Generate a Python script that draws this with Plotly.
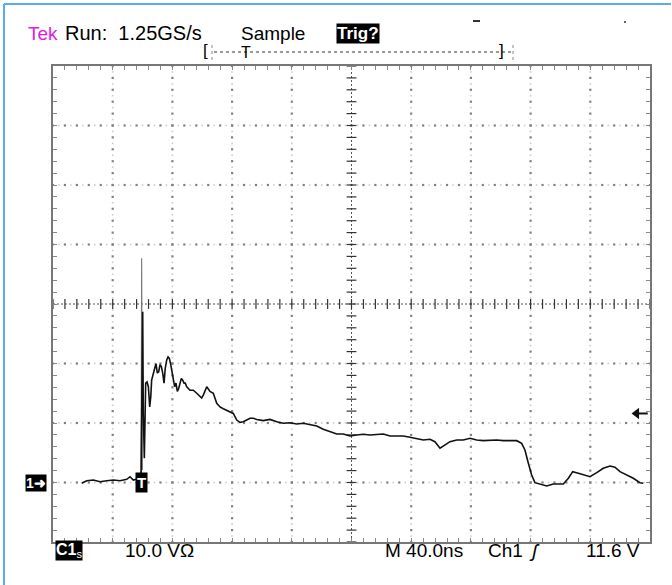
import plotly.graph_objects as go
import numpy as np

# ---------------- data (time in ns from left edge of screen, volts above ground) -------------
time_ns = [19.2, 22.6, 27.0, 31.5, 36.0, 40.4, 44.9, 49.4, 51.6, 53.8, 56.3, 59.0,
           60.1, 60.5, 61.2, 62.1, 63.0, 63.9, 64.8, 65.5, 66.1, 67.2, 68.1, 69.0,
           69.9, 70.8, 71.7, 72.6, 73.5, 74.4, 75.2, 76.2, 77.1, 77.9, 78.9, 79.7,
           80.6, 81.5, 82.4, 83.3, 84.2, 85.1, 86.0, 86.9, 87.8, 88.6, 89.6, 91.8,
           94.0, 96.3, 98.5, 99.6, 100.7, 101.8, 103.0, 105.2, 107.4, 109.7, 111.9,
           114.1, 116.4, 118.6, 120.8, 123.1, 125.3, 127.5, 129.8, 132.0, 134.2,
           136.5, 140.9, 145.4, 149.9, 154.3, 158.8, 163.3, 167.7, 172.2, 176.7,
           181.1, 185.6, 190.1, 194.5, 199.0, 203.5, 207.9, 212.4, 216.9, 221.3,
           225.8, 230.3, 234.7, 239.2, 243.7, 248.1, 252.6, 255.9, 259.3, 261.5,
           266.0, 270.5, 274.9, 279.4, 283.9, 288.3, 292.8, 297.3, 301.7, 306.2,
           310.7, 314.0, 316.2, 318.5, 320.7, 322.9, 326.3, 330.8, 335.2, 341.9,
           345.3, 348.2, 352.0, 355.3, 359.8, 364.3, 368.7, 373.2, 376.5, 379.9,
           384.4, 388.8, 393.3, 395.5]
volts = [-0.13, 0.30, 0.42, 0.13, 0.30, 0.42, 0.30, 0.54, 0.97, 0.42, 0.59, 0.42,
         28.7, 11.6, 4.07, 16.7, 16.9, 16.1, 12.7, 14.4, 17.2, 18.4, 19.5, 20.0,
         18.4, 18.6, 19.8, 19.5, 18.4, 16.7, 19.2, 20.6, 21.1, 20.9, 19.8, 18.6,
         16.7, 16.1, 16.7, 15.3, 15.8, 16.9, 17.5, 17.2, 16.7, 16.7, 16.1, 15.5,
         15.5, 15.0, 14.4, 14.2, 14.7, 15.5, 16.1, 15.3, 15.0, 13.3, 12.7,
         12.4, 12.1, 11.9, 11.6, 10.5, 10.1, 10.2, 10.5, 10.8, 10.8,
         10.6, 10.4, 10.6, 10.2, 9.95, 10.05, 9.83, 9.95, 9.67, 9.50,
         8.94, 8.54, 8.15, 8.15, 7.82, 7.98, 8.10, 7.98, 8.10, 8.15,
         7.82, 7.82, 7.82, 7.60, 7.43, 7.14, 7.26, 6.86, 5.75, 6.14,
         6.86, 7.14, 7.14, 7.43, 7.14, 7.03, 7.14, 7.14, 7.03, 7.03,
         7.03, 6.59, 5.46, 3.23, 1.26, -0.03, -0.25, -0.59, -0.25, -0.25,
         0.71, 1.82, 1.55, 1.26, 0.97, 1.65, 2.39, 2.77, 2.56, 1.82,
         1.26, 0.71, -0.03, -0.13]
# single-sample glitch at the trigger edge (drawn thin / grey)
spike_t = [59.0, 59.4, 59.9]
spike_v = [0.42, 37.7, 2.1]

x_divs = list(range(0, 401, 40))      # 40 ns/div
y_divs = list(range(-10, 71, 10))     # 10 V/div
X_MIN, X_MAX, Y_MIN, Y_MAX = 0, 400, -10, 70
X_MID, Y_MID = 200, 30
trig_level = 11.6
trig_marker_t = [391.0, 398.5]        # trigger-level arrow at right edge of screen

W, H = 672, 585
L, R, T, B = 53, 22, 66, 43
PW, PH = W - L - R, H - T - B


def px(x):
    return (x - L) / PW


def py(y):
    return (H - B - y) / PH


fig = go.Figure()

# ---------------- graticule dots ----------------
gx, gy, lx, ly = [], [], [], []
minor_x = np.arange(X_MIN, X_MAX + 0.01, 8)
minor_y = np.arange(Y_MIN, Y_MAX + 0.01, 2)
half_x = np.arange(X_MIN + 4, X_MAX, 8)
half_y = np.arange(Y_MIN + 1, Y_MAX, 2)
for xv in x_divs[1:-1]:
    if xv == X_MID:
        continue
    gx += [xv] * len(minor_y); gy += list(minor_y)
    lx += [xv] * len(half_y); ly += list(half_y)
for yv in y_divs[1:-1]:
    if yv == Y_MID:
        continue
    gx += list(minor_x); gy += [yv] * len(minor_x)
    lx += list(half_x); ly += [yv] * len(half_x)
fig.add_trace(go.Scatter(x=lx, y=ly, mode="markers", hoverinfo="skip",
                         marker=dict(symbol="square", size=1.6, color="#cccccc")))
fig.add_trace(go.Scatter(x=gx, y=gy, mode="markers", hoverinfo="skip",
                         marker=dict(symbol="square", size=2.2, color="#808080")))

# centre cross: dotted lines + tick marks
fig.add_trace(go.Scatter(x=[X_MIN, X_MAX], y=[Y_MID, Y_MID], mode="lines", hoverinfo="skip",
                         line=dict(color="#555", width=1, dash="2px,2px")))
fig.add_trace(go.Scatter(x=[X_MID, X_MID], y=[Y_MIN, Y_MAX], mode="lines", hoverinfo="skip",
                         line=dict(color="#555", width=1, dash="2px,2px")))
fig.add_trace(go.Scatter(x=list(minor_x), y=[Y_MID] * len(minor_x), mode="markers", hoverinfo="skip",
                         marker=dict(symbol="line-ns", size=7, line=dict(color="#333", width=1.2))))
fig.add_trace(go.Scatter(x=[X_MID] * len(minor_y), y=list(minor_y), mode="markers", hoverinfo="skip",
                         marker=dict(symbol="line-ew", size=7, line=dict(color="#333", width=1.2))))

# ---------------- waveform ----------------
fig.add_trace(go.Scatter(x=spike_t, y=spike_v, mode="lines", hoverinfo="skip",
                         line=dict(color="#777", width=1.1)))
fig.add_trace(go.Scatter(x=time_ns, y=volts, mode="lines",
                         line=dict(color="#111", width=1.6)))

# trigger level arrow
fig.add_trace(go.Scatter(x=trig_marker_t, y=[trig_level] * 2, mode="lines", hoverinfo="skip",
                         line=dict(color="#111", width=2)))
fig.add_trace(go.Scatter(x=trig_marker_t[:1], y=[trig_level], mode="markers", hoverinfo="skip",
                         marker=dict(symbol="triangle-left", size=10, color="#111")))

fig.update_xaxes(range=[X_MIN, X_MAX], showgrid=False, zeroline=False, showticklabels=False,
                 showline=True, linecolor="#777", linewidth=1.5, mirror="ticks",
                 ticks="inside", dtick=8, tick0=0, ticklen=4, tickcolor="#888", tickwidth=1)
fig.update_yaxes(range=[Y_MIN, Y_MAX], showgrid=False, zeroline=False, showticklabels=False,
                 showline=True, linecolor="#777", linewidth=1.5, mirror="ticks",
                 ticks="inside", dtick=2, tick0=0, ticklen=4, tickcolor="#888", tickwidth=1)

FONT = "Liberation Sans Narrow, Liberation Sans, Arial, sans-serif"
ann = []


def txt(x, y, s, size=19, color="black", anchor="left", bg=None, **kw):
    d = dict(x=px(x), y=py(y), xref="paper", yref="paper", text=s, showarrow=False,
             xanchor=anchor, yanchor="middle", font=dict(family=FONT, size=size, color=color))
    if bg:
        d.update(bgcolor=bg, borderpad=0)
    d.update(kw)
    ann.append(d)


# header
txt(26, 33, "Tek", color="#e020e0")
txt(63, 33, "Run:&nbsp; 1.25GS/s", size=20)
txt(239, 33, "Sample")
txt(336, 33, "<b>Trig?</b>", size=17, color="white", bg="black")
# record bar
txt(201, 51, "[", size=17)
txt(497, 51, "]", size=17)
txt(239, 52, "T", size=16)
# footer
txt(55, 550, "<b>C1</b><sub>s</sub>", size=16, color="white", bg="black")
txt(123, 550, "10.0 VΩ")
txt(383, 550, "M 40.0ns")
txt(486, 550, "Ch1")
txt(527, 550, "<i>ʃ</i>", size=19)
txt(584, 550, "11.6 V")
# ground marker & trigger marker
txt(25, 483, "<b>1➜</b>", size=14, color="white", bg="black")
ann.append(dict(x=59.2, y=0.0, xref="x", yref="y", text="<b>T</b>", showarrow=False,
                xanchor="center", yanchor="middle", bgcolor="black", borderpad=1,
                font=dict(family=FONT, size=15, color="white")))

shapes = [
    dict(type="line", xref="paper", yref="paper", x0=px(214), x1=px(512), y0=py(52), y1=py(52),
         line=dict(color="#333", width=1, dash="dot")),
    dict(type="line", xref="paper", yref="paper", x0=px(212), x1=px(212), y0=py(45), y1=py(60),
         line=dict(color="#888", width=1, dash="dot")),
    dict(type="line", xref="paper", yref="paper", x0=px(513), x1=px(513), y0=py(45), y1=py(60),
         line=dict(color="#888", width=1, dash="dot")),
    dict(type="line", xref="paper", yref="paper", x0=px(473), x1=px(480), y0=py(21), y1=py(21),
         line=dict(color="#333", width=2)),
    dict(type="line", xref="paper", yref="paper", x0=px(624), x1=px(626), y0=py(22), y1=py(22),
         line=dict(color="#666", width=2)),
    # blue frame
    dict(type="line", xref="paper", yref="paper", x0=px(4), x1=px(4), y0=py(4), y1=py(585),
         line=dict(color="#5aaaf0", width=2)),
    dict(type="line", xref="paper", yref="paper", x0=px(4), x1=px(671), y0=py(4), y1=py(4),
         line=dict(color="#5aaaf0", width=2)),
]

fig.update_layout(width=W, height=H, margin=dict(l=L, r=R, t=T, b=B),
                  paper_bgcolor="white", plot_bgcolor="white", showlegend=False,
                  annotations=ann, shapes=shapes)

fig.write_html("out.html", config={"displayModeBar": False},
               post_script="document.body.style.margin='0';")
